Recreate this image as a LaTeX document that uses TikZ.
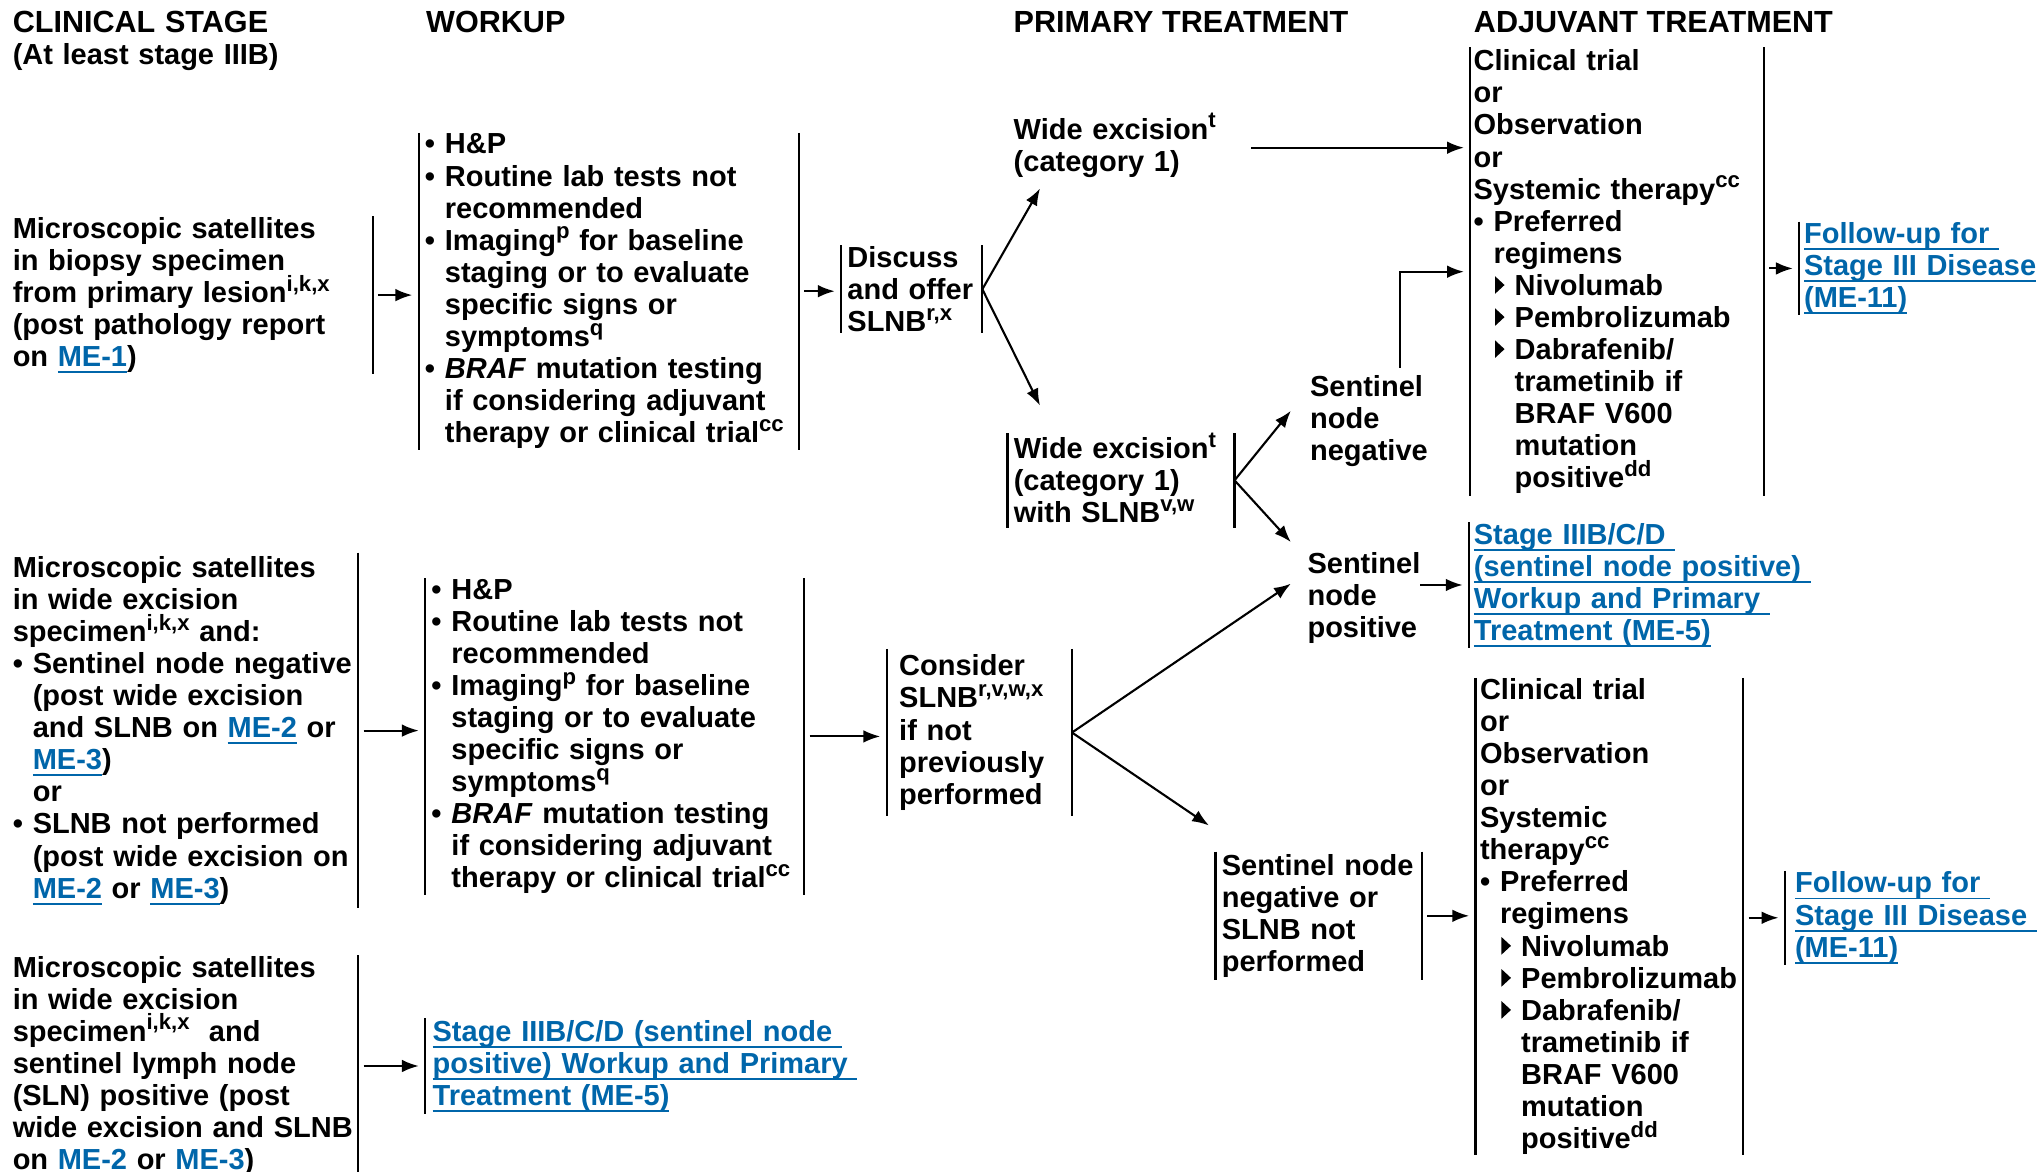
\documentclass[tikz,border=0pt]{standalone}
\usepackage{fontspec}
\setmainfont{Liberation Sans}
\usetikzlibrary{arrows.meta, calc, positioning}

\definecolor{linkblue}{RGB}{0,102,170}
\newsavebox{\lnkbox}
\newcommand{\lnk}[1]{\textcolor{linkblue}{\sbox{\lnkbox}{#1}\rlap{\rule[-1.85pt]{\wd\lnkbox}{0.55pt}}\usebox{\lnkbox}}}
\newcommand{\sups}[1]{\raisebox{3.2pt}[5.8pt][0pt]{\fontsize{6.3}{6.3}\selectfont #1}}
\newcommand{\bul}{\makebox[5.7pt][l]{•}}
\newcommand{\bulgap}{\hspace*{5.7pt}}
\newcommand{\tri}{\hspace*{6.1pt}\makebox[5.6pt][l]{\tikz[baseline=0pt]\fill (0,0.4pt) -- (0,5.4pt) -- (2.7pt,2.9pt) -- cycle;}}
\newcommand{\trigap}{\hspace*{11.7pt}}

\tikzset{
    txt/.style={font=\bfseries\fontsize{8.25}{9.12}\selectfont, align=left, inner sep=0pt},
    head/.style={font=\bfseries\fontsize{8.7}{9.12}\selectfont},
    bars/.style={append after command={(\tikzlastnode.north west) edge (\tikzlastnode.south west) (\tikzlastnode.north east) edge (\tikzlastnode.south east)}},
    lbar/.style={append after command={(\tikzlastnode.north west) edge (\tikzlastnode.south west)}},
    rbar/.style={append after command={(\tikzlastnode.north east) edge (\tikzlastnode.south east)}},
    arr/.style={->},
    gap/.style={shorten <=1.5pt, shorten >=1.8pt},
}

\begin{document}
\begin{tikzpicture}[x=0.013cm, y=-0.013cm, line width=0.6pt, >={Latex[length=4.8pt,width=3.6pt]}, every node/.style={txt}]
    \useasboundingbox[fill=white] (0,0) rectangle (1568.5,900.8);

    \node[anchor=base west, text width=3.3cm] (hdstage) at (9,25) {{\fontsize{8.7}{9.12}\selectfont CLINICAL STAGE}\\(At least stage IIIB)};
    \node[head, anchor=base west] (hdwork) at (327,25) {WORKUP};
    \node[head, anchor=base west] (hdprim) at (779,25) {PRIMARY TREATMENT};
    \node[head, anchor=base west] (hdadj) at (1133,25) {ADJUVANT TREATMENT};

    \node[rbar, anchor=west, text width=3.588cm, minimum height=1.521cm] (stage1) at (9,227) {Microscopic satellites\\ in biopsy specimen\\ from primary lesion\sups{i,k,x}\\ (post pathology report\\ on \lnk{ME-1})};
    \node[bars, anchor=west, inner xsep=1.5pt, text width=3.678cm, minimum height=3.133cm] (work1) at (322,224) {\bul H\&P\\ \bul Routine lab tests not\\ \bulgap recommended\\ \bul Imaging\sups{p} for baseline\\ \bulgap staging or to evaluate\\ \bulgap specific signs or\\ \bulgap symptoms\sups{q}\\ \bul \textit{BRAF} mutation testing\\ \bulgap if considering adjuvant\\ \bulgap therapy or clinical trial\sups{cc}};
    \node[bars, anchor=west, inner xsep=1.5pt, text width=1.286cm, minimum height=0.819cm] (offer) at (647,222.5) {Discuss\\ and~offer\\ SLNB\sups{r,x}};
    \node[anchor=base west, text width=2.314cm] (exc1) at (779,107) {Wide excision\sups{t}\\ (category 1)};
    \node[bars, anchor=west, inner xsep=1.5pt, text width=2.144cm, minimum height=0.923cm] (exc2) at (775,369.5) {Wide excision\sups{t}\\ (category 1)\\ with SLNB\sups{v,w}};
    \node[anchor=base west, text width=1.196cm] (neg1) at (1007,305) {Sentinel\\ node\\ negative};
    \node[bars, anchor=west, inner xsep=0.75pt, text width=2.872cm, minimum height=4.472cm] (adj1) at (1131,209) {Clinical trial\\ or\\ Observation\\ or\\ Systemic therapy\sups{cc}\\ \bul Preferred\\ \bulgap regimens\\ \tri Nivolumab\\ \tri Pembrolizumab\\ \tri Dabrafenib/\\ \trigap trametinib if\\ \trigap BRAF V600\\ \trigap mutation\\ \trigap positive\sups{dd}};
    \node[lbar, anchor=west, inner xsep=1.1pt, text width=2.45cm, minimum height=0.91cm] (fol1) at (1384,206.5) {\lnk{Follow-up for~}\\ \lnk{Stage III Disease}\\ \lnk{(ME-11)}};
    \node[anchor=base west, text width=1.118cm] (pos1) at (1005,441) {Sentinel\\ node\\ positive};
    \node[lbar, anchor=west, inner xsep=1.1pt, text width=3.45cm, minimum height=1.222cm] (link1) at (1130,450) {\lnk{Stage IIIB/C/D~}\\ \lnk{(sentinel node positive)~}\\ \lnk{Workup and Primary~}\\ \lnk{Treatment (ME-5)}};

    \node[rbar, anchor=west, text width=3.445cm, minimum height=3.536cm] (stage2) at (9,562) {Microscopic satellites\\ in wide excision\\ specimen\sups{i,k,x} and:\\ \bul Sentinel node negative\\ \bulgap (post wide excision\\ \bulgap and SLNB on \lnk{ME-2} or\\ \bulgap \lnk{ME-3})\\ \bulgap or\\ \bul SLNB not performed\\ \bulgap (post wide excision on\\ \bulgap \lnk{ME-2} or \lnk{ME-3})};
    \node[bars, anchor=west, inner xsep=1.5pt, text width=3.665cm, minimum height=3.094cm] (work2) at (327,566.5) {\bul H\&P\\ \bul Routine lab tests not\\ \bulgap recommended\\ \bul Imaging\sups{p} for baseline\\ \bulgap staging or to evaluate\\ \bulgap specific signs or\\ \bulgap symptoms\sups{q}\\ \bul \textit{BRAF} mutation testing\\ \bulgap if considering adjuvant\\ \bulgap therapy or clinical trial\sups{cc}};
    \node[bars, anchor=west, inner xsep=3.3pt, text width=1.601cm, minimum height=1.651cm] (consider) at (682,563.5) {Consider\\ SLNB\sups{r,v,w,x}\\ if not\\ previously\\ performed};
    \node[bars, anchor=west, inner xsep=1.5pt, text width=1.936cm, minimum height=1.261cm] (neg2) at (935,704.5) {Sentinel~node\\ negative or\\ SLNB not\\ performed};
    \node[bars, anchor=west, inner xsep=1.1pt, text width=2.587cm, minimum height=4.68cm] (adj2) at (1135,705) {Clinical trial\\ or\\ Observation\\ or\\ Systemic\\ therapy\sups{cc}\\ \bul Preferred\\ \bulgap regimens\\ \tri Nivolumab\\ \tri Pembrolizumab\\ \tri Dabrafenib/\\ \trigap trametinib if\\ \trigap BRAF V600\\ \trigap mutation\\ \trigap positive\sups{dd}};
    \node[lbar, anchor=west, inner xsep=2.6pt, text width=2.45cm, minimum height=0.91cm] (fol2) at (1373,706) {\lnk{Follow-up for~}\\ \lnk{Stage III Disease~}\\ \lnk{(ME-11)}};

    \node[rbar, anchor=west, text width=3.445cm, minimum height=2.145cm] (stage3) at (9,820) {Microscopic satellites\\ in wide excision\\ specimen\sups{i,k,x}~ and\\ sentinel lymph node\\ (SLN) positive (post\\ wide excision and SLNB\\ on \lnk{ME-2} or \lnk{ME-3})};
    \node[lbar, anchor=west, inner xsep=1.85pt, text width=4.4cm, minimum height=0.936cm] (link2) at (327,820) {\lnk{Stage IIIB/C/D (sentinel node~}\\ \lnk{positive) Workup and Primary~}\\ \lnk{Treatment (ME-5)}};

    \coordinate (exc1in) at (800,145);
    \coordinate (exc2in) at (800,312);
    \coordinate (neg1in) at (993,316);
    \coordinate (pos1in) at (993,417);
    \coordinate (pos1low) at (993,449);
    \coordinate (neg2in) at (930,635);
    \coordinate (neg1up) at (1077,283);

    \draw[arr, gap] (stage1.east) -- (stage1.east -| work1.west);
    \draw[arr, gap] (work1.east) -- (work1.east -| offer.west);
    \draw[arr] (offer.east) -- (exc1in);
    \draw[arr] (offer.east) -- (exc2in);
    \draw[arr, gap] (exc1.east) -- (exc1.east -| adj1.west);
    \draw[arr] (exc2.east) -- (neg1in);
    \draw[arr] (exc2.east) -- (pos1in);
    \draw[arr, shorten >=1.8pt] (neg1up) |- (adj1.west);
    \draw[arr, gap] (adj1.east |- fol1.west) -- (fol1.west);
    \draw[arr, shorten >=1.8pt] (pos1.east |- link1.west) -- (link1.west);

    \draw[arr, gap] (stage2.east) -- (stage2.east -| work2.west);
    \draw[arr, gap] (work2.east) -- (work2.east -| consider.west);
    \draw[arr] (consider.east) -- (pos1low);
    \draw[arr] (consider.east) -- (neg2in);
    \draw[arr, gap] (neg2.east) -- (neg2.east -| adj2.west);
    \draw[arr, gap] (adj2.east |- fol2.west) -- (fol2.west);
    \draw[arr, gap] (stage3.east) -- (stage3.east -| link2.west);
\end{tikzpicture}
\end{document}
